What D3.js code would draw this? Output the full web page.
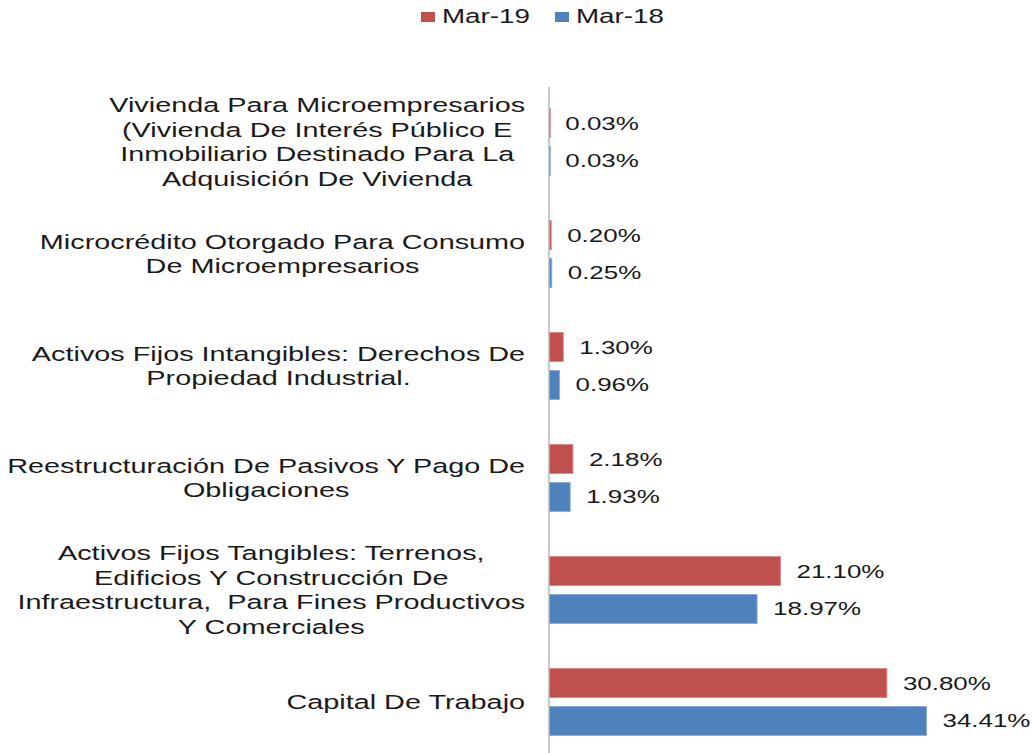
<!DOCTYPE html>
<html><head><meta charset="utf-8">
<script src="https://cdn.jsdelivr.net/npm/d3@7"></script>
<style>body{margin:0;background:#fff}svg{display:block}text{font-family:"Liberation Sans",Arial,sans-serif;fill:#1a1a1a;white-space:pre}</style>
</head><body>
<svg id="c" width="1032" height="753"></svg>
<script>
const categories = [
  ["Vivienda Para Microempresarios","(Vivienda De Interés Público E","Inmobiliario Destinado Para La","Adquisición De Vivienda"],
  ["Microcrédito Otorgado Para Consumo","De Microempresarios"],
  ["Activos Fijos Intangibles: Derechos De","Propiedad Industrial."],
  ["Reestructuración De Pasivos Y Pago De","Obligaciones"],
  ["Activos Fijos Tangibles: Terrenos,","Edificios Y Construcción De","Infraestructura,  Para Fines Productivos","Y Comerciales"],
  ["Capital De Trabajo"]
];
const seriesNames = ["Mar-19","Mar-18"];
const mar19 = [0.03, 0.20, 1.30, 2.18, 21.10, 30.80];
const mar18 = [0.03, 0.25, 0.96, 1.93, 18.97, 34.41];
const colors = ["#C0504D","#4F81BD"];
const strokes = ["#D98C8A","#8DAEDB"];

const SX = 1.38, SXL = 1.42;
const svg = d3.select("#c");
const keys = categories.map(c => c.join(" "));
const y = d3.scaleBand().domain(keys).range([86, 758]).paddingInner(0.393).paddingOuter(0.1965);
const ys = d3.scaleBand().domain(seriesNames).range([0, y.bandwidth()]).paddingInner(0.2105);
const x = d3.scaleLinear().domain([0, 40]).range([549, 549 + 40 * 10.97]);
const series = [mar19, mar18];

// bars
series.forEach((vals, si) => {
  svg.append("g").selectAll("rect").data(vals).join("rect")
    .attr("x", x(0) + 0.5)
    .attr("y", (d, i) => y(keys[i]) + ys(seriesNames[si]) + 0.5)
    .attr("width", d => Math.max(0.8, x(d) - x(0) - 0.5))
    .attr("height", ys.bandwidth() - 1)
    .attr("fill", colors[si])
    .attr("stroke", strokes[si]).attr("stroke-width", 1);
  svg.append("g").selectAll("g").data(vals).join("g")
    .attr("transform", (d, i) => `translate(${x(d) + 16},${y(keys[i]) + ys(seriesNames[si]) + ys.bandwidth() / 2 + 6.5}) scale(${SX},1)`)
    .append("text").attr("font-size", 18.8).text(d => d.toFixed(2) + "%");
});

// axis
const axis = svg.append("g").attr("transform", `translate(${x(0)},0)`)
  .call(d3.axisLeft(y).tickSize(0).tickFormat(""));
axis.select(".domain").attr("stroke", "#A6A6A6").attr("stroke-width", 1.2).attr("d", "M0,87V753");

// category labels
const RIGHT = 525, LH = 24.5;
categories.forEach((lines, i) => {
  const cy = y(keys[i]) + y.bandwidth() / 2;
  const g = svg.append("g");
  const texts = lines.map(l => g.append("text").attr("font-size", 20.3).attr("text-anchor", "middle").text(l));
  const maxW = d3.max(texts, t => t.node().getComputedTextLength()) * SXL;
  const cx = RIGHT - maxW / 2;
  texts.forEach((t, j) => {
    const ly = cy + (j - (lines.length - 1) / 2) * LH + 7;
    t.attr("transform", `translate(${cx},${ly}) scale(${SXL},1)`);
  });
});

// legend
const legX = [421, 555];
seriesNames.forEach((s, i) => {
  svg.append("rect").attr("x", legX[i]).attr("y", 12).attr("width", 14).attr("height", 10).attr("fill", colors[i]);
  svg.append("g").attr("transform", `translate(${legX[i] + 21},23) scale(1.41,1)`)
    .append("text").attr("font-size", 19.7).text(s);
});
</script>
</body></html>
